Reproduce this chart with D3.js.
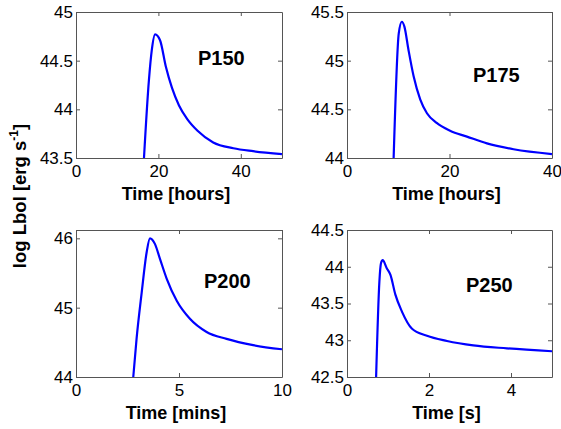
<!DOCTYPE html>
<html><head><meta charset="utf-8">
<script src="https://cdn.jsdelivr.net/npm/d3@7"></script>
<style>
body{margin:0;background:#fff;}
svg{display:block;font-family:"Liberation Sans",Arial,sans-serif;}
</style></head>
<body><svg id="c" width="561" height="429"></svg>
<script>
// ---- data ----
const p150T = [16.5, 17.7, 18.4, 19.2, 20.4, 21.8, 23.3, 25.0, 27.0, 29.5, 33.3, 38.2, 43.0, 50];
const p150L = [43.5, 44.3, 44.61, 44.77, 44.71, 44.44, 44.22, 44.04, 43.90, 43.78, 43.66, 43.60, 43.57, 43.54];
const p175T = [9.1, 10.1, 10.7, 11.2, 12.0, 13.0, 14.3, 15.6, 17.5, 20.1, 23.4, 27.3, 32.5, 40];
const p175L = [44.0, 45.28, 45.40, 45.35, 45.11, 44.84, 44.60, 44.46, 44.36, 44.28, 44.22, 44.15, 44.09, 44.04];
const p200T = [2.78, 2.94, 3.19, 3.43, 3.59, 3.83, 4.08, 4.40, 4.89, 5.53, 6.34, 7.31, 8.6, 10];
const p200L = [44.0, 44.55, 45.22, 45.80, 46.0, 45.92, 45.70, 45.42, 45.10, 44.84, 44.65, 44.55, 44.46, 44.40];
const p250T = [0.71, 0.79, 0.83, 0.87, 0.97, 1.06, 1.18, 1.34, 1.58, 1.95, 2.44, 3.08, 3.90, 5];
const p250L = [42.5, 43.80, 44.05, 44.09, 43.98, 43.89, 43.62, 43.39, 43.16, 43.06, 42.99, 42.93, 42.89, 42.85];

const panelNames = ["P150", "P175", "P200", "P250"];
const xLabels = ["Time [hours]", "Time [hours]", "Time [mins]", "Time [s]"];
const xDomains = [[0, 50], [0, 40], [0, 10], [0, 5]];
const yDomains = [[43.5, 45], [44, 45.5], [44, 46.12], [42.5, 44.5]];
const xTicks = [[0, 20, 40], [0, 20, 40], [0, 5, 10], [0, 2, 4]];
const yTicks = [[43.5, 44, 44.5, 45], [44, 44.5, 45, 45.5], [44, 45, 46], [42.5, 43, 43.5, 44, 44.5]];
const seriesT = [p150T, p175T, p200T, p250T];
const seriesL = [p150L, p175L, p200L, p250L];

// ---- layout ----
const boxes = [
  {x: 76, y: 12, w: 206, h: 146},
  {x: 347, y: 12, w: 205, h: 146},
  {x: 76, y: 230, w: 206, h: 147},
  {x: 347, y: 230, w: 205, h: 147}
];
const namePos = [[122, 53], [126, 70], [128, 58], [119, 62]];

const svg = d3.select("#c");
const fmt = d3.format("~g");
const axisColor = "#555";

boxes.forEach((b, i) => {
  const x = d3.scaleLinear().domain(xDomains[i]).range([0, b.w]);
  const y = d3.scaleLinear().domain(yDomains[i]).range([b.h, 0]);
  const g = svg.append("g").attr("transform", `translate(${b.x},${b.y})`);

  g.append("clipPath").attr("id", "clip" + i)
    .append("rect").attr("width", b.w).attr("height", b.h);

  const styleAxis = sel => {
    sel.selectAll("path.domain").attr("stroke", axisColor).attr("stroke-width", 1);
    sel.selectAll(".tick line").attr("stroke", axisColor);
    sel.selectAll("text").attr("fill", "#000").attr("font-size", 17)
      .attr("font-family", "Liberation Sans, Arial, sans-serif");
  };

  g.append("g").attr("transform", `translate(0,${b.h})`)
    .call(d3.axisBottom(x).tickValues(xTicks[i]).tickFormat(fmt).tickSizeInner(-4).tickSizeOuter(0).tickPadding(7))
    .call(styleAxis);
  g.append("g")
    .call(d3.axisLeft(y).tickValues(yTicks[i]).tickFormat(fmt).tickSizeInner(-4).tickSizeOuter(0).tickPadding(3))
    .call(styleAxis);
  g.append("g")
    .call(d3.axisTop(x).tickValues(xTicks[i]).tickFormat("").tickSizeInner(-4).tickSizeOuter(0))
    .call(styleAxis);
  g.append("g").attr("transform", `translate(${b.w},0)`)
    .call(d3.axisRight(y).tickValues(yTicks[i]).tickFormat("").tickSizeInner(-4).tickSizeOuter(0))
    .call(styleAxis);
  g.selectAll(".domain").attr("fill", "none");

  const data = seriesT[i].map((t, k) => [t, seriesL[i][k]]);
  const line = d3.line().x(d => x(d[0])).y(d => y(d[1])).curve(d3.curveMonotoneX);
  g.append("path").datum(data).attr("d", line)
    .attr("clip-path", `url(#clip${i})`)
    .attr("fill", "none").attr("stroke", "#0000ff").attr("stroke-width", 2.2)
    .attr("stroke-linejoin", "round");

  g.append("text").attr("x", namePos[i][0]).attr("y", namePos[i][1])
    .attr("font-size", 20).attr("font-weight", "bold").text(panelNames[i]);

  g.append("text").attr("x", b.w / 2 - 3).attr("y", b.h + 42)
    .attr("text-anchor", "middle").attr("font-size", 18).attr("font-weight", "bold")
    .text(xLabels[i]);
});

const yl = svg.append("text")
  .attr("transform", "translate(26,196) rotate(-90)")
  .attr("text-anchor", "middle").attr("font-size", 18.5).attr("font-weight", "bold");
yl.append("tspan").text("log Lbol [erg s");
yl.append("tspan").attr("font-size", 12).attr("dy", -8).text("-1");
yl.append("tspan").attr("dy", 8).text("]");
</script>
</body></html>
